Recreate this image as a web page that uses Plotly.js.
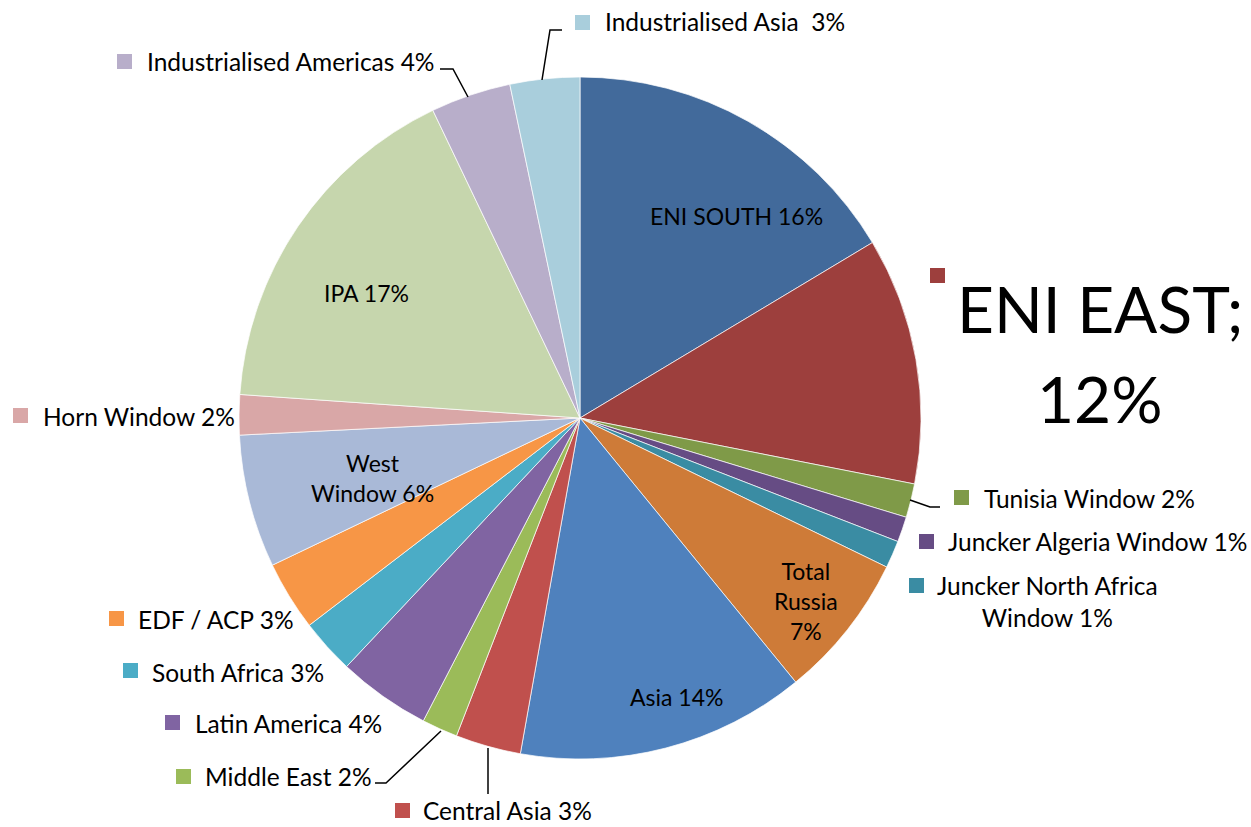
<!DOCTYPE html>
<html><head><meta charset="utf-8">
<script src="https://cdn.plot.ly/plotly-3.0.1.min.js"></script>
<style>html,body{margin:0;padding:0;background:#fff}#chart{width:1251px;height:827px}</style>
</head><body><div id="chart"></div>
<script>
var labels = ["ENI SOUTH","ENI EAST","Tunisia Window","Juncker Algeria Window","Juncker North Africa Window","Total Russia","Asia","Central Asia","Middle East","Latin America","South Africa","EDF / ACP","West Window","Horn Window","IPA","Industrialised Americas","Industrialised Asia"];
var values = [16.4,11.7,1.6,1.2,1.3,6.9,13.7,3.1,1.7,4.4,2.6,3.3,6.3,1.9,16.8,3.8,3.3];
var colors = ["#426A9B","#9D3F3D","#7F9A48","#664C84","#3A8CA3","#CE7B38","#4F81BD","#C0504D","#9BBB59","#8064A2","#4BACC6","#F79646","#A9B9D7","#D9A7A7","#C6D6AD","#B8AECA","#A9CEDC"];
var displayLabels = ["ENI SOUTH","ENI EAST;","Tunisia Window","Juncker Algeria Window","Juncker North Africa<br>Window","Total<br>Russia<br>","Asia","Central Asia","Middle East","Latin America","South Africa","EDF / ACP","West<br>Window","Horn Window","IPA","Industrialised Americas","Industrialised Asia "];

var W = 1251, H = 827;
var cx = 580, cy = 418, R = 341;
var total = values.reduce(function(a,b){return a+b;},0);
function pct(i){ return Math.round(values[i]/total*100) + "%"; }
function px(x){ return x/W; }
function py(y){ return 1 - y/H; }

var FONT = "Lato, 'Open Sans', sans-serif";
var FS_OUT = 24.5;
var FS_IN = 23;

// [index, x, y, mode, squareX, squareY]
var place = [
  [0, 736, 216, 'in'],
  [14, 366, 293, 'in'],
  [12, 372, 478, 'in'],
  [5, 806, 601, 'in'],
  [6, 676, 697, 'in'],
  [16, 604, 22, 'out', 575, 15],
  [15, 146, 61, 'out', 117, 54],
  [2, 983, 498, 'out', 954, 490],
  [3, 947, 541, 'out', 919, 534],
  [7, 422, 810, 'out', 395, 803],
  [8, 204, 776, 'out', 176, 769],
  [9, 194, 723, 'out', 165, 715],
  [10, 151, 672, 'out', 123, 663],
  [11, 137, 619, 'out', 109, 611],
  [13, 42, 416, 'out', 13, 408]
];

var annotations = [], shapes = [];
place.forEach(function(p){
  var i = p[0];
  var t;
  if (p[3] === 'in') {
    var d = displayLabels[i];
    t = (d.slice(-4) === "<br>") ? d + pct(i) : d + " " + pct(i);
    annotations.push({x: px(p[1]), y: py(p[2]), xref:'paper', yref:'paper', text: t, showarrow:false, xanchor:'center', yanchor:'middle', align:'center', font:{family:FONT, size:FS_IN, color:'#000'}});
  } else {
    var sep = (i === 16) ? "  " : " ";
    t = displayLabels[i].replace(/ $/, "") + sep + pct(i);
    annotations.push({x: px(p[1]), y: py(p[2]), xref:'paper', yref:'paper', text: t, showarrow:false, xanchor:'left', yanchor:'middle', borderpad:0, font:{family:FONT, size:FS_OUT, color:'#000'}});
    shapes.push({type:'rect', xref:'paper', yref:'paper', x0: px(p[4]), x1: px(p[4]+15), y0: py(p[5]), y1: py(p[5]+15), fillcolor: colors[i], line:{width:0}});
  }
});
// Juncker North Africa (two lines, centered)
annotations.push({x: px(1047), y: py(601), xref:'paper', yref:'paper', text: displayLabels[4] + " " + pct(4), showarrow:false, xanchor:'center', yanchor:'middle', align:'center', font:{family:FONT, size:FS_OUT, color:'#000'}});
shapes.push({type:'rect', xref:'paper', yref:'paper', x0: px(909), x1: px(924), y0: py(578), y1: py(593), fillcolor: colors[4], line:{width:0}});
// ENI EAST big label (two lines)
annotations.push({x: px(1100), y: py(308), xref:'paper', yref:'paper', text: displayLabels[1], showarrow:false, xanchor:'center', yanchor:'middle', font:{family:FONT, size:64, color:'#000'}});
annotations.push({x: px(1100), y: py(398), xref:'paper', yref:'paper', text: pct(1), showarrow:false, xanchor:'center', yanchor:'middle', font:{family:FONT, size:64, color:'#000'}});
shapes.push({type:'rect', xref:'paper', yref:'paper', x0: px(930), x1: px(945), y0: py(268), y1: py(283), fillcolor: colors[1], line:{width:0}});

// leader lines
function path(pts){
  return 'M ' + pts.map(function(q){ return px(q[0]) + ',' + py(q[1]); }).join(' L ');
}
var leaders = [
  [[562,30],[550,30],[542,80]],
  [[440,69],[453,69],[468,97]],
  [[910,500],[930,507],[940,507]],
  [[488,748],[488,794]],
  [[375,783],[386,783],[441,731]]
];
leaders.forEach(function(l){
  shapes.push({type:'path', xref:'paper', yref:'paper', path: path(l), line:{color:'#000', width:1.5}});
});

var data = [{
  type: 'pie',
  labels: labels,
  values: values,
  sort: false,
  direction: 'clockwise',
  rotation: 0,
  textinfo: 'none',
  hoverinfo: 'label+percent',
  marker: {colors: colors, line: {color: '#ffffff', width: 0.7}},
  domain: {x: [px(cx - R), px(cx + R)], y: [py(cy + R), py(cy - R)]},
  showlegend: false
}];

var layout = {
  width: W, height: H,
  margin: {l:0, r:0, t:0, b:0},
  paper_bgcolor: '#fff',
  showlegend: false,
  annotations: annotations,
  shapes: shapes
};
Plotly.newPlot('chart', data, layout, {displayModeBar:false, staticPlot:true});
</script></body></html>
